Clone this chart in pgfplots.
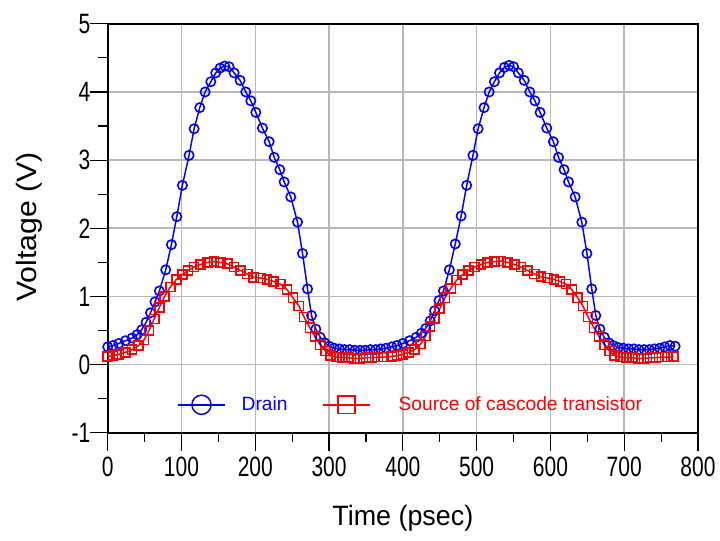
\documentclass[border=0pt]{standalone}
\usepackage{pgfplots}
\pgfplotsset{compat=1.18}
\usepackage{pgfplotstable}
\usepackage{fontspec}
\setmainfont{Liberation Sans}
\newfontfamily\tickfont[FakeStretch=0.75]{Liberation Sans}
\newfontfamily\ylabelfont[FakeStretch=1.08]{Liberation Sans}
\newfontfamily\xlabelfont[FakeStretch=0.96]{Liberation Sans}

\pgfplotstableread{
t V
0 0.26
7 0.28
15 0.31
24 0.35
33 0.39
40 0.44
46 0.51
52 0.62
58 0.76
64 0.92
70 1.08
78.6 1.39
86.3 1.76
93.6 2.17
101.2 2.63
110.2 3.07
117.1 3.46
124.7 3.77
132 4.00
139.7 4.15
146.4 4.28
152.3 4.35
158.6 4.38
164.5 4.37
171.3 4.28
179.4 4.17
187.1 4.00
193.9 3.87
200.7 3.70
209.7 3.47
218.8 3.27
225.6 3.04
233.2 2.86
239.1 2.68
248.1 2.46
257.2 2.09
264 1.63
270.8 1.11
276.2 0.72
282 0.52
288 0.40
294 0.32
300 0.27
307 0.24
314 0.23
321 0.22
328 0.22
335 0.21
342 0.21
349 0.21
356 0.22
363 0.22
370 0.23
377 0.24
385 0.26
392 0.28
400 0.31
409 0.35
418 0.40
425 0.46
431 0.53
437 0.64
443 0.79
449 0.94
455 1.08
463 1.39
471 1.77
479 2.18
486.5 2.63
495 3.07
502 3.46
510 3.77
517 4.00
524 4.15
531 4.28
537.5 4.36
544 4.39
550 4.37
556.5 4.28
564.5 4.17
572 4.00
579 3.87
586 3.70
595 3.47
604 3.27
611 3.04
618.5 2.86
624.5 2.68
633.5 2.46
642.5 2.09
649.5 1.63
656 1.11
661.5 0.72
667 0.52
673 0.40
679 0.32
685 0.28
692 0.25
699 0.24
706 0.23
713 0.23
720 0.22
727 0.22
734 0.22
741 0.23
748 0.24
755 0.26
762 0.28
769 0.27
}\draintable

\pgfplotstableread{
t V
0 0.12
7 0.13
15 0.15
24 0.18
33 0.22
42 0.28
49 0.36
56 0.50
63 0.67
70 0.84
77 1.00
85 1.14
93 1.25
101 1.32
109 1.38
117 1.43
126 1.47
135 1.50
144 1.51
153 1.50
162 1.48
171 1.43
180 1.38
189 1.33
198 1.28
207 1.27
216 1.25
225 1.22
234 1.18
243 1.10
251 0.98
259 0.86
266 0.70
274 0.54
281 0.41
288 0.29
295 0.20
302 0.13
310 0.11
318 0.10
326 0.10
334 0.09
342 0.09
350 0.10
358 0.10
366 0.11
374 0.11
385 0.12
392 0.13
400 0.15
408 0.18
416 0.22
424 0.30
431 0.42
437 0.56
443 0.68
450 0.82
457 0.98
465 1.12
473 1.24
481 1.32
489 1.38
497 1.43
506 1.47
515 1.50
524 1.51
533 1.52
542 1.50
551 1.47
560 1.43
569 1.38
578 1.33
587 1.29
596 1.27
605 1.25
613 1.22
621 1.18
629 1.10
637 0.98
644 0.86
651 0.70
659 0.54
666 0.41
673 0.29
680 0.20
687 0.13
695 0.11
703 0.10
711 0.10
719 0.09
727 0.09
735 0.10
743 0.10
751 0.11
759 0.11
767 0.12
}\sourcetable

\begin{document}
\begin{tikzpicture}
\useasboundingbox (0,0) rectangle (540pt,405.75pt);
\begin{axis}[
  at={(80.8pt,81.2pt)}, anchor=south west,
  scale only axis, width=442.7pt, height=306.7pt,
  xmin=0, xmax=800, ymin=-1, ymax=5,
  xtick={0,100,...,800}, ytick={-1,0,...,5},
  minor x tick num=1, minor y tick num=1,
  tick align=outside, tick pos=left,
  major tick length=13.5pt, minor tick length=7pt,
  tick style={black, line width=0.9pt},
  grid=major, major grid style={black!28, line width=1.2pt},
  axis line style={black, line width=1.2pt},
  /pgf/number format/assume math mode=true,
  tick label style={font=\tickfont\fontsize{21}{24}\selectfont, inner sep=0pt},
  xticklabel style={anchor=north, yshift=-4.3pt},
  yticklabel style={anchor=east, xshift=0.6pt},
  xlabel={Time (psec)}, ylabel={Voltage (V)},
  xlabel style={font=\xlabelfont\fontsize{21}{24}\selectfont, at={(axis description cs:0.5,0)}, anchor=center, yshift=-64.5pt},
  ylabel style={font=\ylabelfont\fontsize{21}{24}\selectfont, at={(axis description cs:0,0.5)}, anchor=center, yshift=58.5pt, xshift=1pt},
  legend image code/.code={\draw[#1, mark repeat=2, mark phase=2] plot coordinates {(0pt,0pt) (17.6pt,0pt) (35.2pt,0pt)};},
  legend style={at={(axis cs:411,-0.59)}, anchor=center, draw=none, fill=none,
    legend columns=2, font=\fontsize{14.4}{16}\selectfont,
    /tikz/column 1/.append style={column sep=10pt},
    /tikz/column 2/.append style={column sep=24pt},
    /tikz/column 3/.append style={column sep=19pt}},
]
\addlegendimage{blue, line width=1.1pt, mark=o, mark size=7.2pt, mark options={line width=1.1pt}}
\addlegendentry{\textcolor{blue}{Drain}}
\addlegendimage{red, line width=1.1pt, mark=square, mark size=6.5pt, mark options={line width=1.1pt}}
\addlegendentry{\textcolor{red}{Source of cascode transistor}}
\addplot[blue, line width=1.1pt, mark=o, mark size=3.5pt, mark options={line width=1.2pt}, forget plot] table[x=t, y=V] {\draintable};
\addplot[red, line width=1.1pt, mark=square, mark size=3.4pt, mark options={line width=1.2pt}, forget plot] table[x=t, y=V] {\sourcetable};
\end{axis}
\end{tikzpicture}
\end{document}
